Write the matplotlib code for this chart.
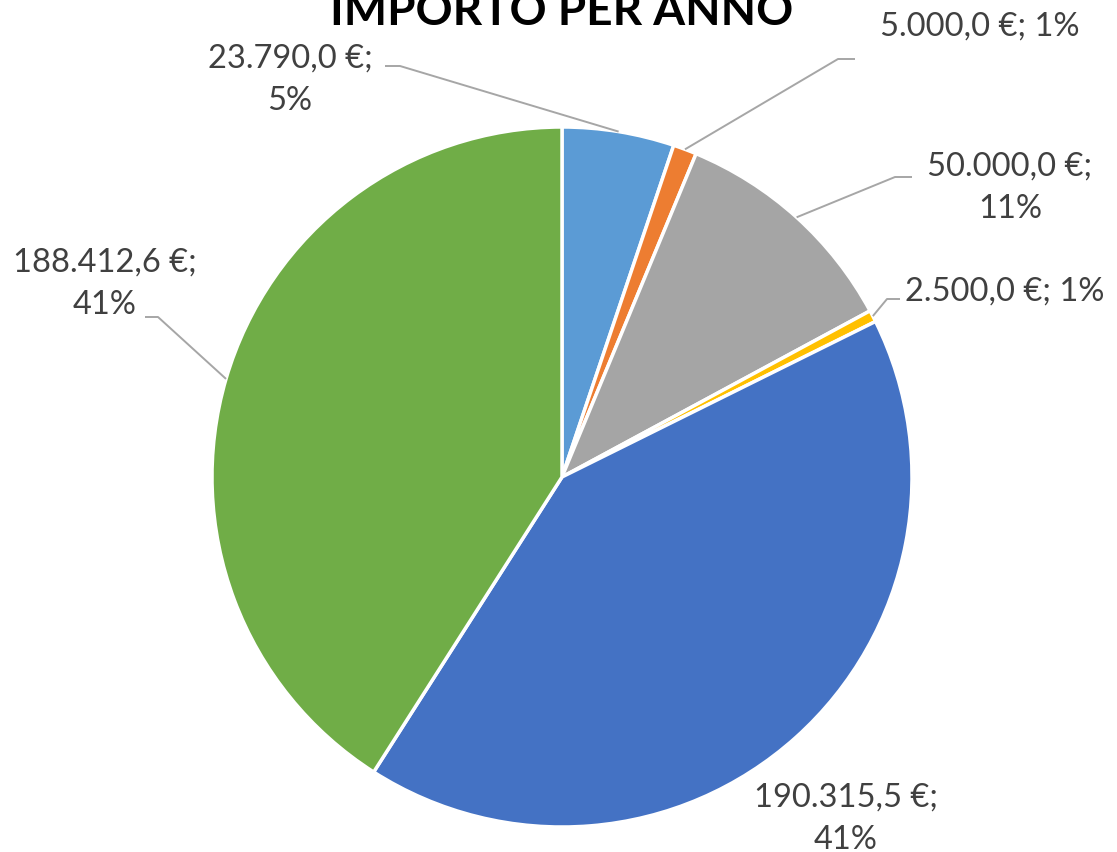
import numpy as np
import matplotlib.pyplot as plt

# dati
importi = [23790.0, 5000.0, 50000.0, 2500.0, 190315.5, 188412.6]
etichette = ["23.790,0 €;\n5%", "5.000,0 €; 1%", "50.000,0 €;\n11%",
             "2.500,0 €; 1%", "190.315,5 €;\n41%", "188.412,6 €;\n41%"]
colori = ["#5B9BD5", "#ED7D31", "#A5A5A5", "#FFC000", "#4472C4", "#70AD47"]

W, H = 1117, 853
cx, cy, r = 562, 478, 350

plt.rcParams['font.family'] = ['Lato', 'DejaVu Sans']

fig = plt.figure(figsize=(W / 100, H / 100), dpi=100)
ax = fig.add_axes([0, 0, 1, 1])

wedges, _ = ax.pie(importi, colors=colori, startangle=90, counterclock=False,
                   center=(cx, H - cy), radius=r,
                   wedgeprops=dict(edgecolor='white', linewidth=2.5))

# pie() reimposta i limiti, quindi li fissiamo dopo
ax.set_xlim(0, W)
ax.set_ylim(0, H)
ax.set_aspect('equal')
ax.axis('off')

# posizione etichette (pixel) e gomito della linea guida
label_pos = [(290, 80, 'center'), (880, 27, 'left'), (1010, 188, 'center'),
             (905, 292, 'left'), (846, 819, 'center'), (105, 284, 'center')]
gomiti = [[(400, 67), (385, 67)], [(838, 60), (855, 60)], [(895, 178), (912, 178)],
          [(887, 300), (900, 300)], None, [(158, 318), (145, 318)]]

for w, lab, (lx, ly, ha), g in zip(wedges, etichette, label_pos, gomiti):
    ax.text(lx, H - ly, lab, ha=ha, va='center', fontsize=23.5, color='#404040',
            linespacing=1.5, multialignment='center')
    if g is None:
        continue
    ang = np.deg2rad((w.theta1 + w.theta2) / 2)
    px = cx + r * np.cos(ang)
    py = H - cy + r * np.sin(ang)
    xs = [px] + [p[0] for p in g]
    ys = [py] + [H - p[1] for p in g]
    ax.plot(xs, ys, color='#A6A6A6', linewidth=1.4, solid_capstyle='butt')

ax.text(562, H - 25, "IMPORTO PER ANNO", ha='center', va='baseline',
        fontsize=33, fontweight='bold', color='black')

fig.savefig('out.png', dpi=100)
